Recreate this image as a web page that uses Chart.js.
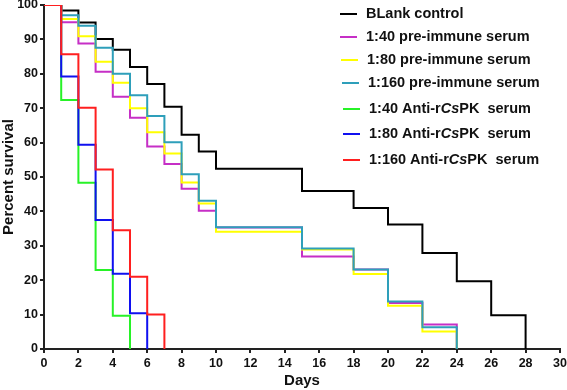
<!DOCTYPE html>
<html>
<head>
<meta charset="utf-8">
<script src="https://cdn.jsdelivr.net/npm/chart.js@4.4.1/dist/chart.umd.min.js"></script>
<style>
  html, body { margin: 0; padding: 0; background: #fff; }
  #wrap { width: 567px; height: 390px; position: relative; }
</style>
</head>
<body>
<div id="wrap"><canvas id="survival-chart"></canvas></div>
<script>
// --- days at which each curve steps, and the survival value from that day on ---
const blankDays = [0, 1, 2, 3, 4, 5, 6, 7, 8, 9, 10, 15, 18, 20, 22, 24, 26, 28];
const preDays = [0, 1, 2, 3, 4, 5, 6, 7, 8, 9, 10, 15, 18, 20, 22, 24];
const anti40Days = [0, 1, 2, 3, 4, 5];
const anti80Days = [0, 1, 2, 3, 4, 5, 6];
const anti160Days = [0, 1, 2, 3, 4, 5, 6, 7];

const blankControl = [100, 98.4, 94.9, 90.1, 87.0, 82.0, 77.0, 70.4, 62.3, 57.4, 52.4, 45.9, 41.0, 36.2, 27.9, 19.7, 9.8, 0];
const pre40 = [100, 95.0, 88.8, 80.6, 73.3, 67.2, 58.9, 53.8, 46.6, 40.2, 35.3, 26.9, 23.1, 13.4, 7.1, 0];
const pre80 = [100, 95.9, 90.9, 83.5, 77.4, 70.0, 63.0, 56.8, 48.4, 42.3, 34.1, 28.9, 21.8, 12.6, 5.1, 0];
const pre160 = [100, 97.0, 94.0, 87.6, 80.0, 73.8, 67.7, 60.1, 50.8, 43.1, 35.4, 29.2, 23.1, 13.8, 6.3, 0];
const anti40 = [100, 72.4, 48.3, 23.0, 9.7, 0];
const anti80 = [100, 79.2, 59.4, 37.5, 21.9, 10.4, 0];
const anti160 = [100, 85.7, 70.1, 52.2, 34.5, 21.0, 10.0, 0];

const seriesLabels = [
    'BLank control',
    '1:40 pre-immune serum',
    '1:80 pre-immune serum',
    '1:160 pre-immune serum',
    '1:40 Anti-rCsPK  serum',
    '1:80 Anti-rCsPK  serum',
    '1:160 Anti-rCsPK  serum'
];
const seriesColors = ['#000000', '#c62fc6', '#ffff00', '#2e9fba', '#27f227', '#1010f0', '#ff1f1f'];

const xTicks = { min: 0, max: 30, step: 2 };
const yTicks = { min: 0, max: 100, step: 10 };

const FONT = "'Liberation Sans', Arial, sans-serif";

function toPoints(days, values) {
    return days.map((d, i) => ({ x: d, y: values[i] }));
}

const seriesData = [
    toPoints(blankDays, blankControl),
    toPoints(preDays, pre40),
    toPoints(preDays, pre80),
    toPoints(preDays, pre160),
    toPoints(anti40Days, anti40),
    toPoints(anti80Days, anti80),
    toPoints(anti160Days, anti160)
];

// --- legend drawn by hand so "Cs" can be italic ---
const manualLegend = {
    id: 'manualLegend',
    afterDraw(chart, args, opts) {
        const ctx = chart.ctx;
        ctx.save();
        ctx.textBaseline = 'middle';
        chart.data.datasets.forEach((ds, i) => {
            const y = opts.rowY[i];
            const shift = opts.shift[i];
            ctx.strokeStyle = ds.borderColor;
            ctx.lineWidth = 2;
            ctx.beginPath();
            ctx.moveTo(opts.lineX + shift, y);
            ctx.lineTo(opts.lineX + shift + opts.lineLen, y);
            ctx.stroke();

            ctx.fillStyle = '#111';
            let x = opts.textX + shift;
            const parts = ds.label.split(/(Cs)/);
            parts.forEach(p => {
                ctx.font = (p === 'Cs' ? 'italic bold ' : 'bold ') + opts.fontSize + 'px ' + FONT;
                ctx.fillText(p, x, y);
                x += ctx.measureText(p).width;
            });
        });
        ctx.restore();
    }
};

const datasets = seriesLabels.map((label, i) => ({
    label: label,
    data: seriesData[i],
    borderColor: seriesColors[i],
    backgroundColor: seriesColors[i],
    borderWidth: 2,
    pointRadius: 0,
    stepped: 'before',
    fill: false,
    order: seriesLabels.length - i
}));

new Chart(document.getElementById('survival-chart'), {
    type: 'line',
    data: { datasets },
    options: {
        responsive: true,
        maintainAspectRatio: false,
        animation: false,
        layout: { padding: { top: 5, right: 7, left: 0, bottom: 0 } },
        scales: {
            x: {
                type: 'linear',
                min: xTicks.min, max: xTicks.max,
                border: { color: '#222', width: 2 },
                grid: { drawOnChartArea: false, tickLength: 4, color: '#222', lineWidth: 2 },
                ticks: { stepSize: xTicks.step, color: '#111', padding: 3, maxRotation: 0,
                         font: { family: FONT, size: 12.5, weight: 'bold' } },
                title: { display: true, text: 'Days', color: '#111', padding: { top: 0, bottom: 0 },
                         font: { family: FONT, size: 15, weight: 'bold' } },
                afterFit(scale) { scale.height = 41; scale.paddingLeft = 0; scale.paddingRight = 0; }
            },
            y: {
                min: yTicks.min, max: yTicks.max,
                border: { color: '#222', width: 2 },
                grid: { drawOnChartArea: false, tickLength: 4, color: '#222', lineWidth: 2 },
                ticks: { stepSize: yTicks.step, color: '#111', padding: 2,
                         font: { family: FONT, size: 12.5, weight: 'bold' } },
                title: { display: true, text: 'Percent survival', color: '#111', padding: { top: 0, bottom: 0 },
                         font: { family: FONT, size: 15, weight: 'bold' } },
                afterFit(scale) { scale.width = 44; scale.paddingTop = 0; scale.paddingBottom = 0; }
            }
        },
        plugins: {
            legend: { display: false },
            tooltip: { enabled: false },
            manualLegend: {
                rowY: [14, 37, 60, 83, 109, 134, 160],
                shift: [0, 0, 1, 2, 3, 3, 3],
                lineX: 340,
                lineLen: 17,
                textX: 366,
                fontSize: 14.5
            }
        }
    },
    plugins: [manualLegend]
});
</script>
</body>
</html>
